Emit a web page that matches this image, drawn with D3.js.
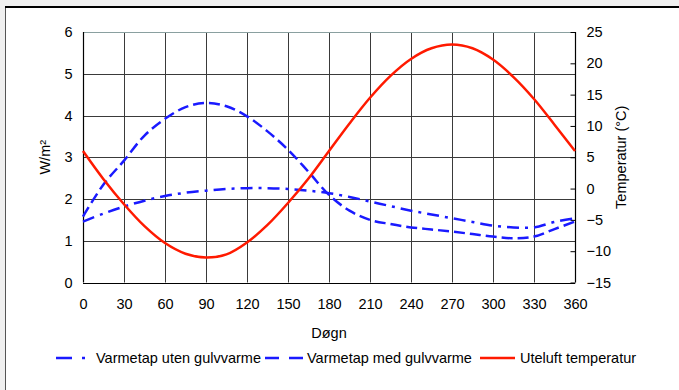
<!DOCTYPE html>
<html>
<head>
<meta charset="utf-8">
<script src="https://cdn.jsdelivr.net/npm/d3@7"></script>
<style>
  html, body { margin: 0; padding: 0; background: #f0f0f0; }
  svg { display: block; }
  text { font-family: "Liberation Sans", Arial, sans-serif; fill: #000; }
</style>
</head>
<body>
<svg id="chart" width="679" height="390"></svg>
<script>
// Days of the year (every 15 days)
const days = [0, 15, 30, 45, 60, 75, 90, 105, 120, 135, 150, 165, 180,
              195, 210, 225, 240, 255, 270, 285, 300, 315, 330, 345, 360];

// Heat loss without floor heating (W/m²)
const utenGulvvarme = [1.46, 1.65, 1.82, 1.96, 2.07, 2.15, 2.20, 2.24, 2.26, 2.26, 2.24, 2.20, 2.14,
                       2.05, 1.94, 1.83, 1.72, 1.63, 1.54, 1.45, 1.36, 1.32, 1.32, 1.45, 1.54];

// Heat loss with floor heating (W/m²)
const medGulvvarme = [1.58, 2.35, 2.92, 3.52, 3.92, 4.20, 4.30, 4.22, 3.98, 3.62, 3.18, 2.65, 2.10,
                      1.72, 1.50, 1.40, 1.32, 1.27, 1.22, 1.16, 1.10, 1.06, 1.10, 1.28, 1.46];

// Outdoor air temperature (°C)
const uteluft = [6.0, 1.5, -2.5, -6.0, -8.7, -10.4, -11.0, -10.5, -8.6, -5.8, -2.3, 1.6, 6.0,
                 10.4, 14.5, 18.0, 20.7, 22.4, 23.0, 22.4, 20.6, 17.8, 14.3, 10.2, 6.0];

const xTicks = [0, 30, 60, 90, 120, 150, 180, 210, 240, 270, 300, 330, 360];
const yLeftTicks = [0, 1, 2, 3, 4, 5, 6];
const yRightTicks = [-15, -10, -5, 0, 5, 10, 15, 20, 25];

const seriesNames = ["Varmetap uten gulvvarme", "Varmetap med gulvvarme", "Uteluft temperatur"];

const svg = d3.select("#chart");

// Chart frame
svg.append("rect").attr("x", 6).attr("y", 8).attr("width", 680).attr("height", 390).attr("fill", "#fff");
svg.append("line").attr("x1", 5.5).attr("x2", 5.5).attr("y1", 7).attr("y2", 390)
  .attr("stroke", "#555").attr("stroke-width", 1);
svg.append("line").attr("x1", 5).attr("x2", 679).attr("y1", 7).attr("y2", 7)
  .attr("stroke", "#000").attr("stroke-width", 2);

const x = d3.scaleLinear().domain([0, 360]).range([83, 575]);
const yL = d3.scaleLinear().domain([0, 6]).range([282.5, 32]);
const yR = d3.scaleLinear().domain([-15, 25]).range([282.5, 32]);

const crisp = v => Math.round(v) + 0.5;

// Grid
const grid = svg.append("g");
xTicks.slice(1, -1).forEach(t => {
  grid.append("line").attr("x1", crisp(x(t))).attr("x2", crisp(x(t)))
    .attr("y1", yL(6)).attr("y2", yL(0)).attr("stroke", "#3a3a3a").attr("stroke-width", 1);
});
yLeftTicks.slice(1, -1).forEach(t => {
  grid.append("line").attr("x1", x(0)).attr("x2", x(360))
    .attr("y1", crisp(yL(t))).attr("y2", crisp(yL(t))).attr("stroke", "#3a3a3a").attr("stroke-width", 1);
});
// top border of plot
grid.append("line").attr("x1", x(0)).attr("x2", x(360))
  .attr("y1", crisp(yL(6))).attr("y2", crisp(yL(6))).attr("stroke", "#8aa0a0").attr("stroke-width", 1);

// Axes
const fontSize = "14.5px";
const xAxis = svg.append("g").attr("transform", `translate(0,${crisp(yL(0))})`)
  .call(d3.axisBottom(x).tickValues(xTicks).tickFormat(d3.format("d")).tickSize(0).tickPadding(15));
const yAxisL = svg.append("g").attr("transform", `translate(${crisp(x(0))},0)`)
  .call(d3.axisLeft(yL).tickValues(yLeftTicks).tickFormat(d3.format("d")).tickSize(0).tickPadding(11));
const yAxisR = svg.append("g").attr("transform", `translate(${crisp(x(360))},0)`)
  .call(d3.axisRight(yR).tickValues(yRightTicks).tickFormat(d3.format("d")).tickSize(-5).tickPadding(11));
[xAxis, yAxisL, yAxisR].forEach(a => {
  a.select(".domain").attr("stroke", "#000").attr("stroke-width", 1.2);
  a.selectAll(".tick line").attr("stroke", "#000");
  a.selectAll("text").style("font-family", '"Liberation Sans", Arial, sans-serif')
    .style("font-size", fontSize).attr("fill", "#000");
});
yAxisR.select(".domain").attr("d", `M0,${yR(25)}V${yR(-15)}`);
yAxisL.select(".domain").attr("d", `M0,${yL(6)}V${yL(0)}`);
xAxis.select(".domain").attr("d", `M${x(0)},0H${x(360)}`);

// Axis titles
svg.append("text").attr("x", x(180)).attr("y", 338).attr("text-anchor", "middle")
  .style("font-size", fontSize).text("Døgn");
svg.append("text").attr("transform", `translate(50,${yL(3)}) rotate(-90)`).attr("text-anchor", "middle")
  .style("font-size", fontSize).text("W/m²");
svg.append("text").attr("transform", `translate(626,${yL(3)}) rotate(-90)`).attr("text-anchor", "middle")
  .style("font-size", fontSize).text("Temperatur (°C)");

// Series
const lineL = vals => d3.line().x((d, i) => x(days[i])).y(d => yL(d)).curve(d3.curveCatmullRom)(vals);
const lineR = vals => d3.line().x((d, i) => x(days[i])).y(d => yR(d)).curve(d3.curveCatmullRom)(vals);

svg.append("path").attr("d", lineL(utenGulvvarme)).attr("fill", "none")
  .attr("stroke", "#1a1aff").attr("stroke-width", 2.5).attr("stroke-dasharray", "12,6,3,6");
svg.append("path").attr("d", lineL(medGulvvarme)).attr("fill", "none")
  .attr("stroke", "#1a1aff").attr("stroke-width", 2.5).attr("stroke-dasharray", "11,5");
svg.append("path").attr("d", lineR(uteluft)).attr("fill", "none")
  .attr("stroke", "#ff1a00").attr("stroke-width", 2.5);

// Legend
const legendY = 358;
const legend = [
  { x1: 56, x2: 86, tx: 96, dash: "16,10,3,10", color: "#1a1aff" },
  { x1: 265, x2: 305, tx: 307, dash: "14,10", color: "#1a1aff" },
  { x1: 480, x2: 515, tx: 520, dash: null, color: "#ff1a00" }
];
legend.forEach((l, i) => {
  svg.append("line").attr("x1", l.x1).attr("x2", l.x2).attr("y1", legendY).attr("y2", legendY)
    .attr("stroke", l.color).attr("stroke-width", 2.5).attr("stroke-dasharray", l.dash);
  svg.append("text").attr("x", l.tx).attr("y", legendY + 5).style("font-size", fontSize).text(seriesNames[i]);
});
</script>
</body>
</html>
